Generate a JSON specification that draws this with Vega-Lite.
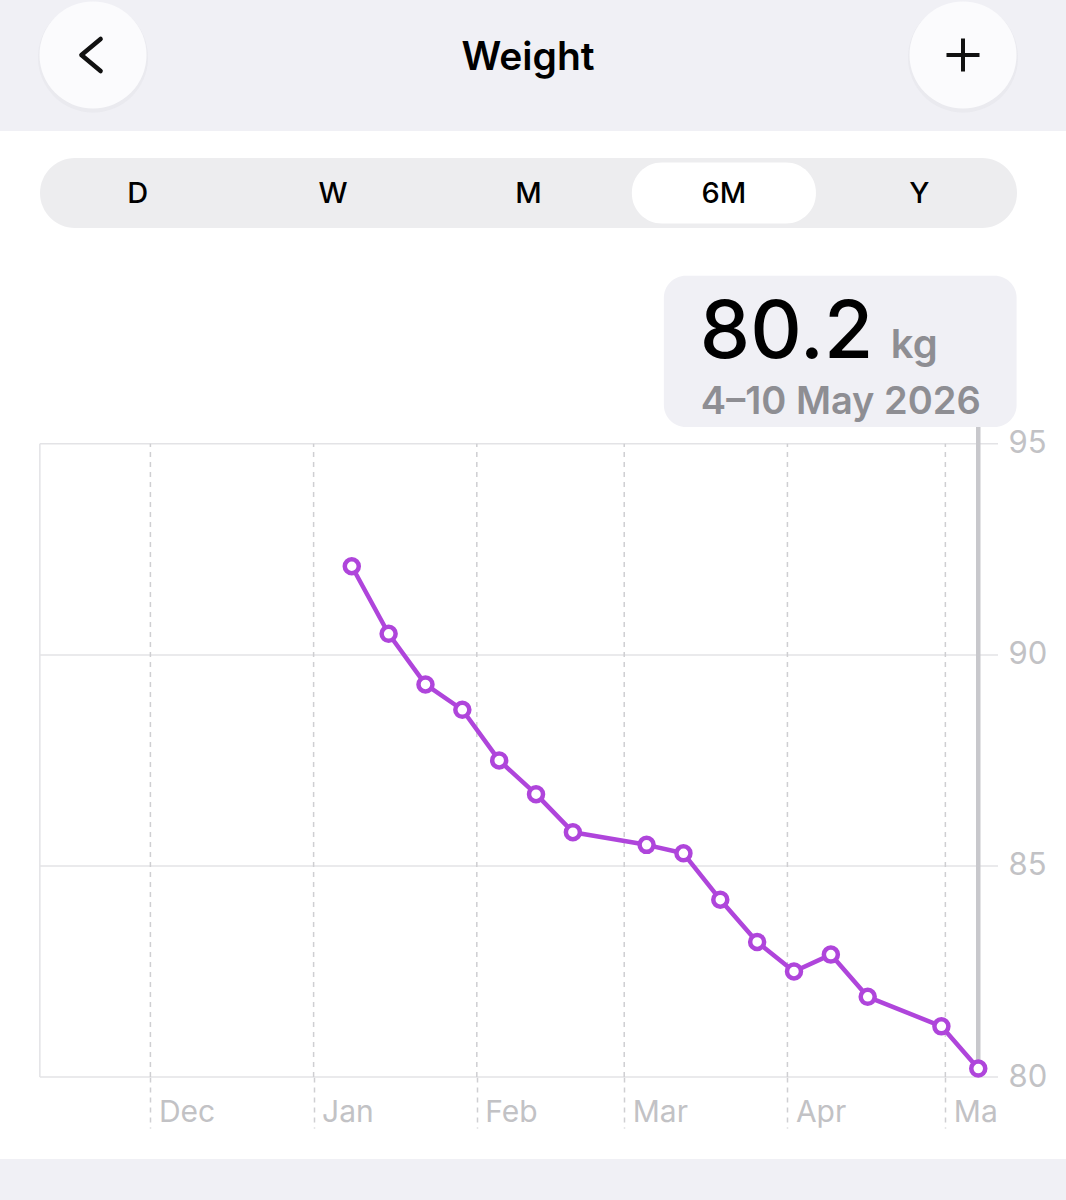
{
  "$schema": "https://vega.github.io/schema/vega-lite/v6.json",
  "padding": 0,
  "background": "white",
  "config": {"font": "Inter", "view": {"stroke": null}},
  "datasets": {
    "weights": [
      {"date": "2026-01-08T06:00", "w": 92.1},
      {"date": "2026-01-15T06:00", "w": 90.5},
      {"date": "2026-01-22T06:00", "w": 89.3},
      {"date": "2026-01-29T06:00", "w": 88.7},
      {"date": "2026-02-05T06:00", "w": 87.5},
      {"date": "2026-02-12T06:00", "w": 86.7},
      {"date": "2026-02-19T06:00", "w": 85.8},
      {"date": "2026-03-05T06:00", "w": 85.5},
      {"date": "2026-03-12T06:00", "w": 85.3},
      {"date": "2026-03-19T06:00", "w": 84.2},
      {"date": "2026-03-26T06:00", "w": 83.2},
      {"date": "2026-04-02T06:00", "w": 82.5},
      {"date": "2026-04-09T06:00", "w": 82.9},
      {"date": "2026-04-16T06:00", "w": 81.9},
      {"date": "2026-04-30T06:00", "w": 81.2},
      {"date": "2026-05-07T06:00", "w": 80.2}
    ],
    "months": [
      {"m": "2025-12-01T00:00"},
      {"m": "2026-01-01T00:00"},
      {"m": "2026-02-01T00:00"},
      {"m": "2026-03-01T00:00"},
      {"m": "2026-04-01T00:00"},
      {"m": "2026-05-01T00:00"}
    ],
    "grid": [{"v": 80}, {"v": 85}, {"v": 90}, {"v": 95}],
    "callout": [{"date": "2026-05-07T06:00", "value": "80.2", "unit": "kg", "range": "4–10 May 2026"}]
  },
  "spacing": 27,
  "vconcat": [
    {
      "width": 1066,
      "height": 131,
      "view": {"fill": "#F0F0F5", "stroke": null},
      "data": {"values": [{"item": "back", "label": ""}, {"item": "title", "label": "Weight"}, {"item": "add", "label": ""}]},
      "encoding": {
        "x": {"field": "item", "type": "nominal", "scale": {"type": "point", "domain": ["back", "title", "add"], "range": [93, 963], "padding": 0}, "axis": null}
      },
      "layer": [
        {"transform": [{"filter": "datum.item != 'title'"}], "mark": {"type": "point", "shape": "circle", "filled": true, "color": "#E4E4EA", "size": 12100, "yOffset": -8, "opacity": 0.5}},
        {"transform": [{"filter": "datum.item != 'title'"}], "mark": {"type": "point", "shape": "circle", "filled": true, "color": "#FBFBFD", "size": 11449, "yOffset": -10.5, "opacity": 1}},
        {"transform": [{"filter": "datum.item == 'back'"}], "mark": {"type": "point", "shape": "M0.6,-1L-0.6,0L0.6,1", "filled": false, "stroke": "#111111", "strokeWidth": 4.5, "strokeCap": "round", "strokeJoin": "round", "size": 1024, "yOffset": -10.5, "xOffset": -2, "opacity": 1}},
        {"transform": [{"filter": "datum.item == 'add'"}], "mark": {"type": "point", "shape": "M-1,0L1,0M0,-1L0,1", "filled": false, "stroke": "#111111", "strokeWidth": 4, "size": 1089, "yOffset": -10.5, "opacity": 1}},
        {"transform": [{"filter": "datum.item == 'title'"}], "mark": {"type": "text", "fontSize": 39, "fontWeight": 600, "color": "#000000", "baseline": "middle", "yOffset": -8}, "encoding": {"text": {"field": "label"}}}
      ]
    },
    {
      "spacing": 47,
      "vconcat": [
        {
          "width": 1066,
          "height": 70,
          "layer": [
            {
              "data": {"values": [{}]},
              "mark": {"type": "rect", "cornerRadius": 35, "color": "#EDEDEF"},
              "encoding": {
                "x": {"datum": 0, "type": "quantitative", "scale": {"domain": [0, 1], "range": [40, 1017], "nice": false, "zero": false}, "axis": null},
                "x2": {"datum": 1}
              }
            },
            {
              "data": {"values": [{"seg": "6M"}]},
              "mark": {"type": "bar", "cornerRadius": 30, "color": "#FFFFFF"},
              "encoding": {
                "x": {"field": "seg", "type": "nominal", "scale": {"type": "band", "domain": ["D", "W", "M", "6M", "Y"], "range": [40, 1017], "paddingInner": 0.058, "paddingOuter": 0.029}, "axis": null},
                "y": {"datum": "sel", "type": "nominal", "scale": {"type": "band", "paddingOuter": 0.074, "paddingInner": 0}, "axis": null}
              }
            },
            {
              "data": {"values": [{"seg": "D"}, {"seg": "W"}, {"seg": "M"}, {"seg": "6M"}, {"seg": "Y"}]},
              "mark": {"type": "text", "fontSize": 29, "fontWeight": 500, "color": "#000000", "baseline": "middle", "dy": 1},
              "encoding": {
                "x": {"field": "seg", "type": "nominal", "scale": {"type": "band", "domain": ["D", "W", "M", "6M", "Y"], "range": [40, 1017], "paddingInner": 0.058, "paddingOuter": 0.029}, "axis": null},
                "text": {"field": "seg"}
              }
            }
          ],
          "resolve": {"scale": {"x": "independent", "y": "independent"}}
        },
        {
          "spacing": 30,
          "vconcat": [
            {
              "width": 998,
              "height": 802,
              "layer": [
                {
                  "data": {"name": "grid"},
                  "mark": {"type": "rule", "color": "#E3E3E6", "strokeWidth": 1.5},
                  "encoding": {
                    "y": {"field": "v", "type": "quantitative", "scale": {"domain": [80, 99], "nice": false, "zero": false}, "axis": null},
                    "x": {"datum": {"year": 2025, "month": 11, "date": 10}, "type": "temporal", "scale": {"type": "time", "domain": [{"year": 2025, "month": 11, "date": 2, "hours": 10, "minutes": 20}, {"year": 2026, "month": 5, "date": 11}], "nice": false}, "axis": null},
                    "x2": {"datum": {"year": 2026, "month": 5, "date": 11}}
                  }
                },
                {
                  "data": {"values": [{}]},
                  "mark": {"type": "rule", "color": "#E3E3E6", "strokeWidth": 1.5},
                  "encoding": {
                    "x": {"datum": {"year": 2025, "month": 11, "date": 10}, "type": "temporal", "scale": {"type": "time", "domain": [{"year": 2025, "month": 11, "date": 2, "hours": 10, "minutes": 20}, {"year": 2026, "month": 5, "date": 11}], "nice": false}, "axis": null},
                    "y": {"datum": 80, "type": "quantitative", "scale": {"domain": [80, 99], "nice": false, "zero": false}, "axis": null},
                    "y2": {"datum": 95}
                  }
                },
                {
                  "data": {"name": "months"},
                  "mark": {"type": "rule", "color": "#CFCFD2", "strokeWidth": 1.5, "strokeDash": [5, 5]},
                  "encoding": {
                    "x": {
                      "field": "m", "type": "temporal",
                      "scale": {"type": "time", "domain": [{"year": 2025, "month": 11, "date": 2, "hours": 10, "minutes": 20}, {"year": 2026, "month": 5, "date": 11}], "nice": false},
                      "axis": {
                        "orient": "bottom",
                        "values": [
                          {"year": 2025, "month": 12, "date": 1},
                          {"year": 2026, "month": 1, "date": 1},
                          {"year": 2026, "month": 2, "date": 1},
                          {"year": 2026, "month": 3, "date": 1},
                          {"year": 2026, "month": 4, "date": 1},
                          {"year": 2026, "month": 5, "date": 1}
                        ],
                        "domain": false,
                        "grid": false,
                        "ticks": true,
                        "tickSize": 51,
                        "tickDash": [5, 5],
                        "tickColor": "#CFCFD2",
                        "tickWidth": 1.5,
                        "labelFontSize": 30,
                        "labelColor": "#C2C2C5",
                        "labelAlign": "left",
                        "labelOffset": 8,
                        "labelBaseline": "alphabetic",
                        "labelPadding": -7,
                        "labelFlush": false,
                        "labelOverlap": false,
                        "labelExpr": "timeFormat(datum.value, '%b') == 'May' ? 'Ma' : timeFormat(datum.value, '%b')",
                        "title": null
                      }
                    },
                    "y": {"datum": 80, "type": "quantitative", "scale": {"domain": [80, 99], "nice": false, "zero": false}, "axis": null},
                    "y2": {"datum": 95}
                  }
                },
                {
                  "data": {"name": "callout"},
                  "mark": {"type": "rect", "color": "#F0F0F5", "cornerRadius": 22},
                  "encoding": {
                    "x": {"datum": {"year": 2026, "month": 3, "date": 8, "hours": 12, "minutes": 45}, "type": "temporal", "scale": {"type": "time", "domain": [{"year": 2025, "month": 11, "date": 2, "hours": 10, "minutes": 20}, {"year": 2026, "month": 5, "date": 11}], "nice": false}, "axis": null},
                    "x2": {"datum": {"year": 2026, "month": 5, "date": 14, "hours": 12, "minutes": 45}},
                    "y": {"datum": 98.98, "type": "quantitative", "scale": {"domain": [80, 99], "nice": false, "zero": false}, "axis": null},
                    "y2": {"datum": 95.4}
                  }
                },
                {
                  "data": {"name": "callout"},
                  "mark": {"type": "rule", "color": "#C8C8CC", "strokeWidth": 4.5},
                  "encoding": {
                    "x": {"field": "date", "type": "temporal", "scale": {"type": "time", "domain": [{"year": 2025, "month": 11, "date": 2, "hours": 10, "minutes": 20}, {"year": 2026, "month": 5, "date": 11}], "nice": false}, "axis": null},
                    "y": {"datum": 80, "type": "quantitative", "scale": {"domain": [80, 99], "nice": false, "zero": false}, "axis": null},
                    "y2": {"datum": 95.4}
                  }
                },
                {
                  "data": {"name": "callout"},
                  "mark": {"type": "text", "align": "left", "baseline": "alphabetic", "fontSize": 80, "fontWeight": 500, "color": "#000000", "dx": 36},
                  "encoding": {
                    "x": {"datum": {"year": 2026, "month": 3, "date": 8, "hours": 12, "minutes": 45}, "type": "temporal", "scale": {"type": "time", "domain": [{"year": 2025, "month": 11, "date": 2, "hours": 10, "minutes": 20}, {"year": 2026, "month": 5, "date": 11}], "nice": false}, "axis": null},
                    "y": {"datum": 97.04, "type": "quantitative", "scale": {"domain": [80, 99], "nice": false, "zero": false}, "axis": null},
                    "text": {"field": "value"}
                  }
                },
                {
                  "data": {"name": "callout"},
                  "mark": {"type": "text", "align": "left", "baseline": "alphabetic", "fontSize": 40, "fontWeight": 600, "color": "#8E8E93", "dx": 227},
                  "encoding": {
                    "x": {"datum": {"year": 2026, "month": 3, "date": 8, "hours": 12, "minutes": 45}, "type": "temporal", "scale": {"type": "time", "domain": [{"year": 2025, "month": 11, "date": 2, "hours": 10, "minutes": 20}, {"year": 2026, "month": 5, "date": 11}], "nice": false}, "axis": null},
                    "y": {"datum": 97.04, "type": "quantitative", "scale": {"domain": [80, 99], "nice": false, "zero": false}, "axis": null},
                    "text": {"field": "unit"}
                  }
                },
                {
                  "data": {"name": "callout"},
                  "mark": {"type": "text", "align": "left", "baseline": "alphabetic", "fontSize": 38, "fontWeight": 600, "color": "#8E8E93", "dx": 37},
                  "encoding": {
                    "x": {"datum": {"year": 2026, "month": 3, "date": 8, "hours": 12, "minutes": 45}, "type": "temporal", "scale": {"type": "time", "domain": [{"year": 2025, "month": 11, "date": 2, "hours": 10, "minutes": 20}, {"year": 2026, "month": 5, "date": 11}], "nice": false}, "axis": null},
                    "y": {"datum": 95.71, "type": "quantitative", "scale": {"domain": [80, 99], "nice": false, "zero": false}, "axis": null},
                    "text": {"field": "range"}
                  }
                },
                {
                  "data": {"name": "weights"},
                  "mark": {"type": "line", "color": "#AF45DB", "strokeWidth": 4.5, "strokeJoin": "round", "strokeCap": "round"},
                  "encoding": {
                    "x": {"field": "date", "type": "temporal", "scale": {"type": "time", "domain": [{"year": 2025, "month": 11, "date": 2, "hours": 10, "minutes": 20}, {"year": 2026, "month": 5, "date": 11}], "nice": false}, "axis": null},
                    "y": {
                      "field": "w", "type": "quantitative",
                      "scale": {"domain": [80, 99], "nice": false, "zero": false},
                      "axis": {"orient": "right", "values": [80, 85, 90, 95], "grid": false, "domain": false, "ticks": false, "labelFontSize": 31, "labelColor": "#C2C2C5", "labelPadding": 10, "labelBaseline": "middle", "title": null}
                    }
                  }
                },
                {
                  "data": {"name": "weights"},
                  "mark": {"type": "point", "shape": "circle", "filled": true, "fill": "#FFFFFF", "stroke": "#AF45DB", "strokeWidth": 4.5, "size": 196, "opacity": 1},
                  "encoding": {
                    "x": {"field": "date", "type": "temporal", "scale": {"type": "time", "domain": [{"year": 2025, "month": 11, "date": 2, "hours": 10, "minutes": 20}, {"year": 2026, "month": 5, "date": 11}], "nice": false}, "axis": null},
                    "y": {"field": "w", "type": "quantitative", "scale": {"domain": [80, 99], "nice": false, "zero": false}, "axis": null}
                  }
                }
              ],
              "resolve": {"axis": {"x": "independent", "y": "independent"}}
            },
            {
              "width": 1066,
              "height": 42,
              "view": {"fill": "#F0F0F5", "stroke": null},
              "data": {"values": [{}]},
              "mark": {"type": "rect", "opacity": 0}
            }
          ]
        }
      ]
    }
  ]
}
